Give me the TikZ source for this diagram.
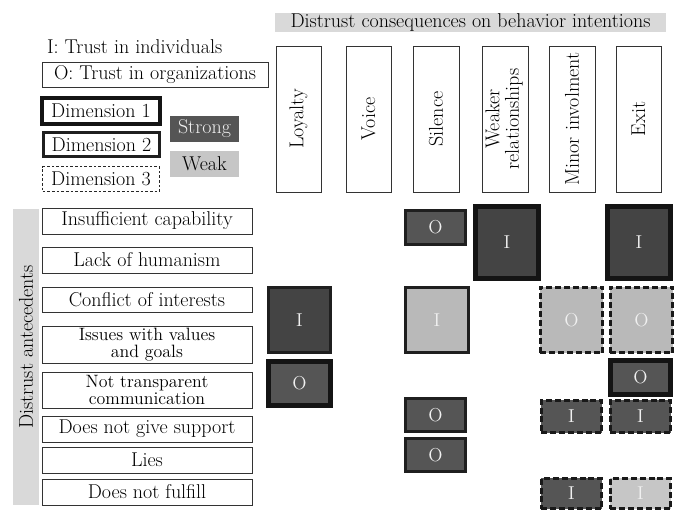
\documentclass[tikz,border=0pt]{standalone}
\usepackage{graphicx}
\definecolor{lbg}{HTML}{D9D9D9}
\definecolor{strongc}{HTML}{555555}
\definecolor{strongd}{HTML}{444444}
\definecolor{weakc}{HTML}{B9B9B9}
\definecolor{weakl}{HTML}{C6C6C6}
\definecolor{txtw}{HTML}{F0F0F0}
\newcommand\bx[7]{\node[#1, minimum width={(#5-#3)*0.75pt}, minimum height={(#6-#4)*0.75pt}] (#2) at ({(#3+#5)/2},{(#4+#6)/2}) {#7};}
\begin{document}
\begin{tikzpicture}[x=0.75pt,y=-0.75pt,
  base/.style={rectangle, inner sep=0pt, outer sep=0pt, font=\fontsize{15}{14}\selectfont},
  lab/.style={base, draw=black!80, line width=0.75pt, fill=white},
  small/.style={font=\fontsize{13.4}{12.3}\selectfont, align=center},
  dimA/.style={base, draw=black!92, line width=3.75pt},
  dimB/.style={base, draw=black!88, line width=1.9pt},
  dimC/.style={base, draw=black!90, line width=1.9pt, dash pattern=on 4.5pt off 2.2pt},
  cellt/.style={text=txtw, font=\fontsize{14}{14}\selectfont},
  hdr/.style={base, draw=black!80, line width=0.75pt, fill=white},
]
\useasboundingbox (0,0) rectangle (678,511);

% legend
\node[base, anchor=west] (ltI) at (47,47) {I: Trust in individuals};
\bx{lab}{ltO}{42}{62}{268}{87}{O: Trust in organizations}
\bx{base, draw=black!92, line width=3pt}{d1}{42}{98}{160}{124}{Dimension 1}
\bx{base, draw=black!88, line width=1.9pt}{d2}{43.25}{132.25}{159.75}{156.75}{Dimension 2}
\bx{base, draw=black!85, line width=0.75pt, dash pattern=on 2pt off 1.5pt}{d3}{42.5}{166.5}{159.5}{191.5}{Dimension 3}
\bx{base, fill=strongc, text=txtw}{st}{170}{116}{239}{142}{Strong}
\bx{base, fill=weakl}{wk}{170}{151}{239}{177}{Weak}

% title
\bx{base, fill=lbg}{title}{275}{13}{666}{32}{Distrust consequences on behavior intentions}

% headers
\bx{hdr}{hLoy}{276}{46}{321}{192}{\rotatebox{90}{Loyalty}}
\bx{hdr}{hVoi}{346}{46}{391}{192}{\rotatebox{90}{Voice}}
\bx{hdr}{hSil}{413}{46}{459}{192}{\rotatebox{90}{Silence}}
\bx{hdr}{hWea}{482}{46}{528}{192}{\rotatebox{90}{\begin{tabular}{@{}c@{}}Weaker\\relationships\end{tabular}}}
\bx{hdr}{hMin}{549}{46}{595}{192}{\rotatebox{90}{Minor involment}}
\bx{hdr}{hExi}{616}{46}{661}{192}{\rotatebox{90}{Exit}}

% side bar
\bx{base, fill=lbg}{side}{13}{209}{39}{505}{}
\node[base, rotate=90] (sidet) at (26,347) {Distrust antecedents};

% rows
\bx{lab}{r1}{42}{208}{252}{234}{Insufficient capability}
\bx{lab}{r2}{42}{247}{252}{273}{Lack of humanism}
\bx{lab}{r3}{42}{287}{252}{312}{Conflict of interests}
\bx{lab, small}{r4}{42}{326}{252}{363}{Issues with values\\and goals}
\bx{lab, small}{r5}{42}{372}{252}{408}{Not transparent\\communication}
\bx{lab}{r6}{42}{416}{252}{442}{Does not give support}
\bx{lab}{r7}{42}{447}{252}{473}{Lies}
\bx{lab}{r8}{42}{479}{252}{505}{Does not fulfill}

% cells: dimension 1
\bx{dimA, fill=strongc, cellt}{cLoyO}{268.5}{361.5}{330.5}{405.5}{O}
\bx{dimA, fill=strongd, cellt}{cWeaI}{475.5}{206.5}{538.5}{278.5}{I}
\bx{dimA, fill=strongd, cellt}{cExiI}{607.5}{206.5}{670.5}{278.5}{I}
\bx{dimA, fill=strongc, cellt}{cExiO}{610.5}{360.5}{670.5}{394.5}{O}
% dimension 2
\bx{dimB, fill=strongd, cellt}{cLoyI}{268.25}{287.25}{330.75}{352.75}{I}
\bx{dimB, fill=strongc, cellt}{cSilO1}{405.25}{210.25}{465.75}{244.75}{O}
\bx{dimB, fill=weakc, cellt}{cSilI}{405.25}{287.25}{468.75}{352.75}{I}
\bx{dimB, fill=strongc, cellt}{cSilO2}{405.25}{398.25}{465.75}{431.75}{O}
\bx{dimB, fill=strongc, cellt}{cSilO3}{405.25}{438.25}{465.75}{471.75}{O}
% dimension 3
\bx{dimC, fill=weakc, cellt}{cMinO}{540.25}{287.25}{602.75}{352.75}{O}
\bx{dimC, fill=weakc, cellt}{cExiO1}{610.25}{287.25}{672.75}{352.75}{O}
\bx{dimC, fill=strongc, cellt}{cMinI1}{541.25}{400.25}{601.75}{432.75}{I}
\bx{dimC, fill=strongc, cellt}{cExiI2}{610.25}{400.25}{670.75}{432.75}{I}
\bx{dimC, fill=strongc, cellt}{cMinI2}{541.25}{478.25}{601.75}{508.75}{I}
\bx{dimC, fill=weakl, cellt}{cExiI3}{610.25}{478.25}{670.75}{508.75}{I}
\end{tikzpicture}
\end{document}
